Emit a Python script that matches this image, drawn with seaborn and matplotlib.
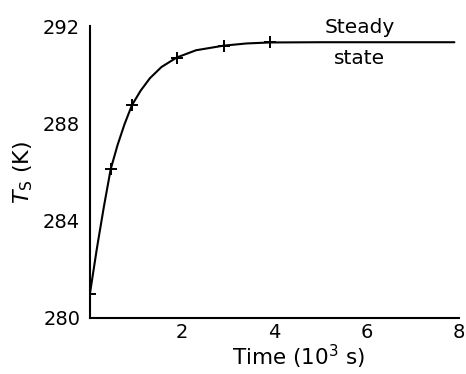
import matplotlib
matplotlib.use("Agg")
import matplotlib.pyplot as plt
import seaborn as sns
import pandas as pd

# Measured points (markers)
point_time = [0.0, 0.45, 0.91, 1.88, 2.9, 3.9]
point_temp = [281.0, 286.12, 288.75, 290.71, 291.2, 291.33]

# Curve
curve_time = [0.0, 0.15, 0.3, 0.45, 0.6, 0.75, 0.91, 1.1, 1.3, 1.55, 1.88, 2.3, 2.9, 3.4, 3.9, 5.0, 6.5, 7.9]
curve_temp = [281.0, 282.85, 284.55, 286.12, 287.12, 287.97, 288.75, 289.35, 289.86, 290.32, 290.71, 291.01,
              291.2, 291.29, 291.33, 291.34, 291.34, 291.34]

x_ticks = [2, 4, 6, 8]
y_ticks = [280, 284, 288, 292]

sns.set_theme(style="white")
plt.rcParams['font.family'] = ['DejaVu Sans']
plt.rcParams['mathtext.fontset'] = 'dejavusans'

fig = plt.figure(figsize=(4.66, 3.74), dpi=100)
ax = fig.add_axes([0.193, 0.150, 0.792, 0.780])

curve = pd.DataFrame({"t": curve_time, "T": curve_temp})
pts = pd.DataFrame({"t": point_time, "T": point_temp})
sns.lineplot(data=curve, x="t", y="T", ax=ax, color="black", linewidth=1.5, sort=False)
sns.scatterplot(data=pts, x="t", y="T", ax=ax, color="black", marker="+", s=80, linewidth=1.4, zorder=3)

ax.set_xlim(0, 8)
ax.set_ylim(280, 292)
ax.set_xticks(x_ticks)
ax.set_yticks(y_ticks)
ax.tick_params(axis="x", direction="in", length=4, width=1.2, labelsize=14, pad=4, colors="black")
ax.tick_params(axis="y", direction="inout", length=8, width=1.2, labelsize=14, pad=3, colors="black")
for side in ["top", "right"]:
    ax.spines[side].set_visible(False)
for side in ["left", "bottom"]:
    ax.spines[side].set_color("black")
    ax.spines[side].set_linewidth(1.5)

ax.set_xlabel("Time (10$^3$ s)", fontsize=15.5, color="black")
ax.xaxis.set_label_coords(0.565, -0.085)
ax.set_ylabel("$T_\\mathrm{S}$ (K)", fontsize=16, labelpad=6, color="black")

ax.text(5.85, 291.71, "Steady", fontsize=14.5, ha="center", va="baseline", color="black")
ax.text(5.85, 290.44, "state", fontsize=14.5, ha="center", va="baseline", color="black")

fig.savefig("out.png", dpi=100)
